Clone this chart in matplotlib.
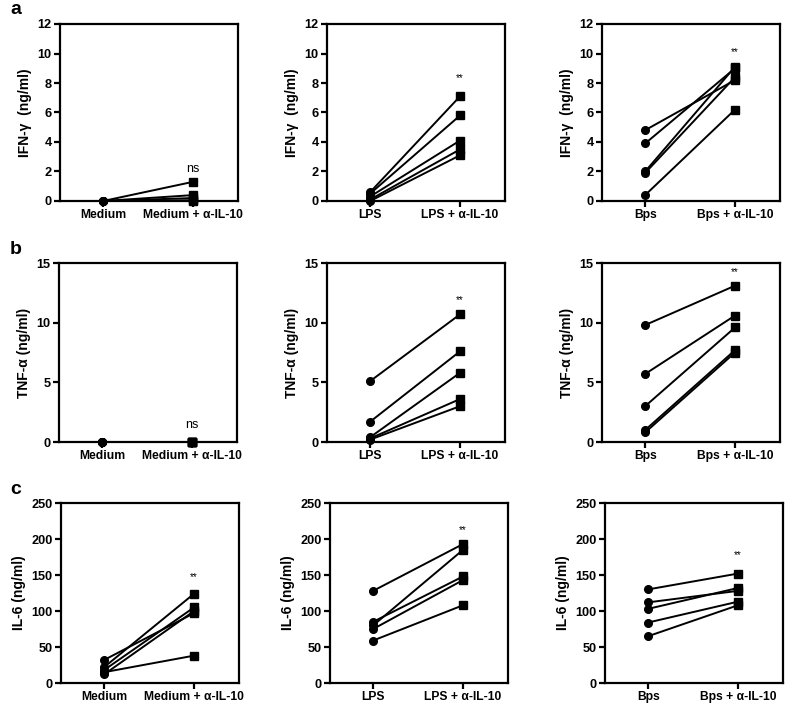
import matplotlib
matplotlib.use("Agg")
import matplotlib.pyplot as plt

plt.rcParams['font.family'] = ['Liberation Sans', 'DejaVu Sans']

# ---- data ----
ifn_medium_before = [0.0, 0.0, 0.0, 0.0, 0.0]
ifn_medium_after = [1.3, 0.4, 0.2, 0.05, 0.0]
ifn_lps_before = [0.6, 0.5, 0.3, 0.1, 0.0]
ifn_lps_after = [7.1, 5.8, 4.1, 3.5, 3.1]
ifn_bps_before = [4.8, 3.9, 2.0, 1.9, 0.4]
ifn_bps_after = [8.2, 9.0, 9.1, 8.4, 6.2]

tnf_medium_before = [0.0, 0.0, 0.0, 0.0, 0.0]
tnf_medium_after = [0.0, 0.0, 0.0, 0.0, 0.0]
tnf_lps_before = [5.1, 1.7, 0.4, 0.3, 0.2]
tnf_lps_after = [10.7, 7.6, 5.8, 3.6, 3.0]
tnf_bps_before = [9.8, 5.7, 3.0, 1.0, 0.8]
tnf_bps_after = [13.1, 10.6, 9.6, 7.7, 7.5]

il6_medium_before = [22, 32, 18, 12, 15]
il6_medium_after = [124, 97, 105, 100, 38]
il6_lps_before = [128, 80, 85, 75, 59]
il6_lps_after = [193, 185, 148, 143, 108]
il6_bps_before = [130, 112, 103, 84, 65]
il6_bps_after = [152, 128, 132, 113, 108]

groups = ["Medium", "LPS", "Bps"]
ylabels = ["IFN-γ  (ng/ml)", "TNF-α (ng/ml)", "IL-6 (ng/ml)"]
yticks = [[0, 2, 4, 6, 8, 10, 12], [0, 5, 10, 15], [0, 50, 100, 150, 200, 250]]
sig = [["ns", "**", "**"], ["ns", "**", "**"], ["**", "**", "**"]]
sig_y = [[2.2, 8.3, 10.1], [1.4, 11.9, 14.2], [147, 213, 177]]
panel_letters = ["a", "b", "c"]

data = [
    [(ifn_medium_before, ifn_medium_after), (ifn_lps_before, ifn_lps_after), (ifn_bps_before, ifn_bps_after)],
    [(tnf_medium_before, tnf_medium_after), (tnf_lps_before, tnf_lps_after), (tnf_bps_before, tnf_bps_after)],
    [(il6_medium_before, il6_medium_after), (il6_lps_before, il6_lps_after), (il6_bps_before, il6_bps_after)],
]

W, H = 787, 707
fig = plt.figure(figsize=(W / 100, H / 100), dpi=100)

row_tb = [(24, 201), (263, 442), (503, 683)]
row_lefts = [[60, 327, 602], [59, 327, 602], [61, 330, 605]]
axw = 178

for r in range(3):
    top, bot = row_tb[r]
    for c in range(3):
        left = row_lefts[r][c]
        ax = fig.add_axes([left / W, 1 - bot / H, axw / W, (bot - top) / H])
        before, after = data[r][c]
        for b, a in zip(before, after):
            ax.plot([0, 1], [b, a], color='black', lw=1.4, zorder=2)
            ax.plot([0], [b], marker='o', ms=5.5, color='black', ls='none', zorder=3, clip_on=False)
            ax.plot([1], [a], marker='s', ms=5.5, color='black', ls='none', zorder=3, clip_on=False)
        yt = yticks[r]
        ax.set_ylim(yt[0], yt[-1])
        ax.set_yticks(yt)
        ax.set_xlim(-0.48, 1.5)
        ax.set_xticks([0, 1])
        g = groups[c]
        ax.set_xticklabels([g, g + " + α-IL-10"], fontweight='bold', fontsize=8.7)
        for lab in ax.get_yticklabels():
            lab.set_fontweight('bold')
            lab.set_fontsize(9.2)
        for sp in ax.spines.values():
            sp.set_linewidth(1.6)
        ax.tick_params(direction='out', length=4, width=1.6, pad=2)
        ax.set_ylabel(ylabels[r], fontweight='bold', fontsize=10, labelpad=4)
        s = sig[r][c]
        if s == "ns":
            ax.text(1, sig_y[r][c], s, ha='center', va='center', fontsize=9)
        else:
            ax.text(1, sig_y[r][c], s, ha='center', va='center', fontsize=7)
    fig.text(10 / W, 1 - (top - 14) / H, panel_letters[r], fontsize=14, fontweight='bold', ha='left', va='center')

fig.savefig("out.png", dpi=100)
